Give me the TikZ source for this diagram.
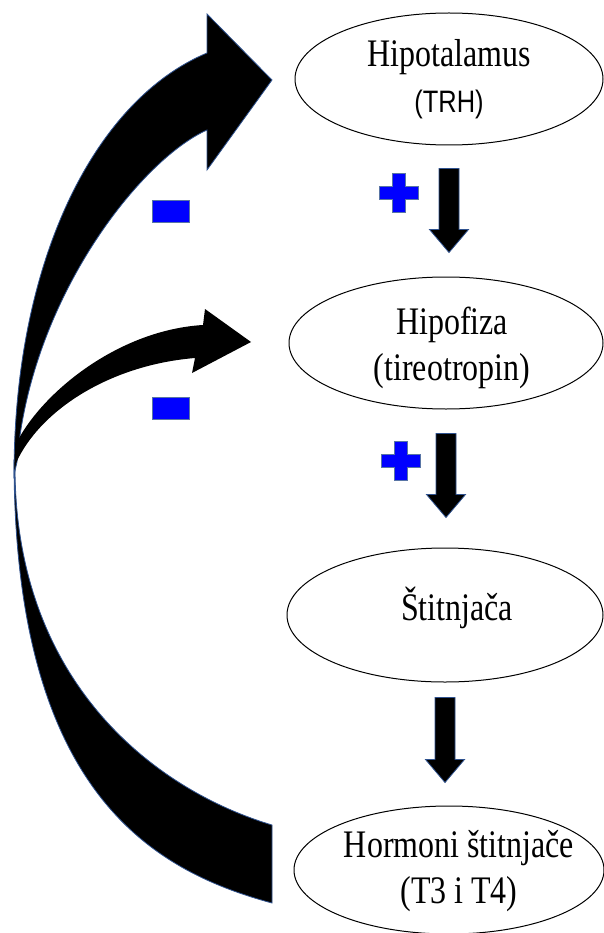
\documentclass[tikz,border=0pt]{standalone}
\usepackage{fontspec}
\setmainfont{Liberation Serif}[FakeStretch=0.82]
\newfontfamily\condsans{Liberation Sans}[FakeStretch=0.82]
\usetikzlibrary{shapes.geometric, calc}

\definecolor{edgeblue}{RGB}{47,82,143}
\definecolor{signblue}{RGB}{0,0,255}

\tikzset{
  organ/.style={draw, ellipse, line width=1pt, minimum width=#1, minimum height=132pt, inner sep=0pt},
  txt/.style={align=center, font=\fontsize{39}{46}\selectfont, inner sep=0pt},
  blockarrow/.style={fill=black, draw=edgeblue, line width=0.8pt},
  feedback/.style={fill=black, draw=edgeblue, line width=0.8pt},
  sign/.style={fill=signblue, draw=edgeblue!80, line width=0.8pt},
  plussign/.pic={\draw[sign] (-6.5,-19.5) -- (6.5,-19.5) -- (6.5,-6.5) -- (19.5,-6.5) -- (19.5,6.5) -- (6.5,6.5)
    -- (6.5,19.5) -- (-6.5,19.5) -- (-6.5,6.5) -- (-19.5,6.5) -- (-19.5,-6.5) -- (-6.5,-6.5) -- cycle;}
}

% thick down arrow between two glands: from, to, top gap, bottom gap
\newcommand\blockdown[4]{%
  \coordinate (top) at ($(#1.south)+(0,#3)$);
  \coordinate (bot) at ($(#2.north)+(0,-#4)$);
  \coordinate (tip) at (top |- bot);
  \draw[blockarrow] ($(top)+(-10,0)$) -- ($(top)+(10,0)$) -- ($(tip)+(10,-23)$) -- ($(tip)+(19.5,-23)$)
    -- (tip) -- ($(tip)+(-19.5,-23)$) -- ($(tip)+(-10,-23)$) -- cycle;}

\begin{document}
\begin{tikzpicture}[x=1pt, y=-1pt]
  \useasboundingbox (0,0) rectangle (603,933);
  % glands
  \node[organ=308pt] (hyp) at (449,79) {};
  \node[organ=314pt] (hpf) at (446,343) {};
  \node[organ=316pt, minimum height=134pt] (stit) at (445,615) {};
  \node[organ=310pt, minimum height=128pt] (horm) at (449,870) {};
  \node[txt, anchor=base] (hyptxt) at (449,113) {Hipotalamus\\{\condsans\fontsize{31}{46}\selectfont (TRH)}};
  \node[txt, anchor=base] (hpftxt) at (452,380) {Hipofiza\\(tireotropin)};
  \node[txt, anchor=base] (stittxt) at (457,620) {Štitnjača};
  \node[txt, anchor=base] (hormtxt) at (459,903) {Hormoni štitnjače\\(T3 i T4)};
  % stimulation
  \blockdown{hyp}{hpf}{23}{24}
  \blockdown{hpf}{stit}{24}{30}
  \blockdown{stit}{horm}{15}{23}
  \pic at (398.5,193) {plussign};
  \pic at (400.5,461) {plussign};
  % negative feedback
  \draw[feedback] (14,460) .. controls (14,790) and (150,870) .. (272,903) -- (272,825)
    .. controls (152,789) and (15,680) .. (15,467) -- cycle;
  \draw[feedback] (14,475) .. controls (14,260) and (95,100) .. (207,53) -- (207,14) -- (272,80) -- (207,170)
    -- (207,130) .. controls (140,160) and (30,300) .. (17,462) -- cycle;
  \fill (18,440) .. controls (45,390) and (120,330) .. (203,325) -- (205,309) -- (251,342) -- (192,373)
    -- (195,358) .. controls (110,365) and (40,410) .. (16,463) -- cycle;
  \draw[sign] (152,200) rectangle (189,222);
  \draw[sign] (152,397) rectangle (189,419);
\end{tikzpicture}
\end{document}
